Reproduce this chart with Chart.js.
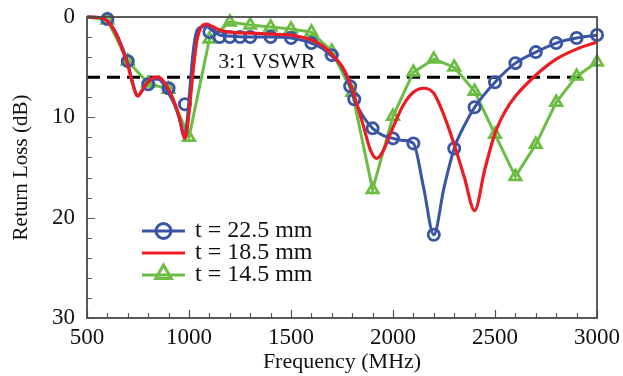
<!DOCTYPE html>
<html>
<head>
<meta charset="utf-8">
<title>Return Loss</title>
<script src="https://cdn.jsdelivr.net/npm/chart.js@4.4.1/dist/chart.umd.min.js"></script>
<style>
html,body{margin:0;padding:0;background:#fff;}
</style>
</head>
<body>
<canvas id="mycanvas" width="623" height="376"></canvas>
<script>
// axis ticks
var xTicks = [500, 1000, 1500, 2000, 2500, 3000];
var yTicks = [0, 10, 20, 30];
var xMinorStep = 100;
var yMinorStep = 2;

var seriesNames = ["t = 22.5 mm", "t = 18.5 mm", "t = 14.5 mm"];

// t = 22.5 mm : curve
var blueFreq = [500, 560, 600, 640, 680, 700, 720, 740, 750, 765, 790, 820, 850, 875, 900, 930, 955, 976, 990, 1005, 1020, 1035, 1060, 1085, 1110, 1150, 1200, 1300, 1400, 1500, 1550, 1600, 1650, 1700, 1750, 1790, 1810, 1850, 1900, 1950, 2000, 2050, 2100, 2150, 2200, 2250, 2300, 2350, 2400, 2500, 2600, 2700, 2800, 2900, 3000];
var blueLoss = [0, 0.05, 0.35, 1.5, 3.4, 4.6, 6.2, 7.6, 7.8, 7.5, 6.7, 6.2, 6.2, 6.7, 7.6, 8.8, 10.3, 12.0, 10.5, 7.0, 3.5, 1.6, 1.0, 0.9, 1.3, 1.8, 1.9, 2.0, 2.0, 2.1, 2.3, 2.6, 3.1, 3.9, 5.0, 6.9, 8.2, 9.8, 11.1, 11.8, 12.1, 12.3, 12.6, 17.0, 21.7, 17.0, 13.1, 10.8, 9.0, 6.5, 4.6, 3.5, 2.6, 2.1, 1.8];
// t = 22.5 mm : circle markers
var blueMarkFreq = [600, 700, 800, 900, 980, 1100, 1150, 1200, 1250, 1300, 1400, 1500, 1600, 1700, 1790, 1810, 1900, 2000, 2100, 2200, 2300, 2400, 2500, 2600, 2700, 2800, 2900, 3000];
var blueMarkLoss = [0.2, 4.4, 6.7, 7.1, 8.7, 1.5, 2.0, 2.0, 2.0, 2.0, 2.0, 2.1, 2.6, 3.8, 6.9, 8.2, 11.1, 12.1, 12.6, 21.7, 13.1, 9.0, 6.5, 4.6, 3.5, 2.6, 2.1, 1.8];

// t = 18.5 mm : curve only
var redFreq = [500, 560, 600, 640, 680, 700, 720, 740, 750, 765, 790, 820, 850, 875, 900, 930, 955, 981, 995, 1010, 1025, 1040, 1060, 1085, 1110, 1150, 1200, 1300, 1400, 1500, 1550, 1600, 1650, 1700, 1750, 1780, 1800, 1850, 1890, 1920, 1950, 2000, 2050, 2100, 2150, 2200, 2250, 2300, 2350, 2400, 2450, 2500, 2550, 2600, 2700, 2800, 2900, 3000];
var redLoss = [0, 0.05, 0.4, 1.6, 3.6, 4.8, 6.4, 7.7, 7.9, 7.5, 6.7, 6.1, 6.0, 6.4, 7.2, 8.6, 10.2, 12.1, 10.5, 7.5, 4.5, 2.2, 1.0, 0.7, 0.9, 1.3, 1.5, 1.6, 1.7, 1.8, 2.0, 2.3, 2.8, 3.7, 4.9, 6.1, 7.2, 10.5, 13.3, 14.1, 13.4, 11.0, 8.8, 7.5, 7.1, 7.6, 9.8, 12.7, 16.0, 19.3, 15.2, 11.6, 9.4, 7.9, 5.8, 4.2, 3.2, 2.5];

// t = 14.5 mm : curve, triangles from 600 MHz on
var greenFreq = [500, 600, 700, 800, 900, 1000, 1100, 1200, 1300, 1400, 1500, 1600, 1700, 1800, 1900, 2000, 2100, 2200, 2300, 2400, 2500, 2600, 2700, 2800, 2900, 3000];
var greenLoss = [0, 0.3, 4.4, 6.6, 7.2, 12.0, 2.2, 0.5, 0.8, 1.0, 1.2, 1.5, 3.4, 7.5, 17.2, 9.9, 5.5, 4.2, 5.0, 7.4, 11.7, 15.9, 12.7, 8.5, 5.9, 4.5];

// 3:1 VSWR reference
var vswrFreq = [500, 2930];
var vswrLoss = [6, 6];
var vswrText = "3:1 VSWR";
var vswrTextAt = [1143, 4.5];

var blue = "#3a55a5", red = "#ec1c24", green = "#6cbd45";
var serif = "'Liberation Serif', 'Times New Roman', serif";

// wanted plot box
var box = {left: 87, top: 17, right: 597, bottom: 318};
var yAxisWidth = 87, xAxisHeight = 376 - 318;

function pts(xs, ys) {
  var out = [];
  for (var i = 0; i < xs.length; i++) out.push({x: xs[i], y: ys[i]});
  return out;
}

var axisDecor = {
  id: 'axisDecor',
  beforeDatasetsDraw: function(chart) {
    var c = chart.ctx, a = chart.chartArea, sx = chart.scales.x, sy = chart.scales.y;
    c.save();
    c.strokeStyle = '#555';
    c.lineWidth = 1.2;
    c.beginPath();
    for (var f = sx.min; f <= sx.max; f += xMinorStep) {
      var px = Math.round(sx.getPixelForValue(f)) + 0.5;
      var l = (f % 500 === 0) ? 8 : 5;
      c.moveTo(px, a.bottom); c.lineTo(px, a.bottom - l);
    }
    for (var d = sy.min; d <= sy.max; d += yMinorStep) {
      var py = Math.round(sy.getPixelForValue(d)) + 0.5;
      var l2 = (d % 10 === 0) ? 8 : 5;
      c.moveTo(a.left, py); c.lineTo(a.left + l2, py);
    }
    c.stroke();
    c.font = '22px ' + serif;
    c.fillStyle = '#111';
    c.textBaseline = 'middle';
    c.textAlign = 'left';
    c.fillText(vswrText, sx.getPixelForValue(vswrTextAt[0]), sy.getPixelForValue(vswrTextAt[1]));
    c.restore();
  },
  afterDraw: function(chart) {
    var c = chart.ctx, a = chart.chartArea;
    c.save();
    c.strokeStyle = '#4a4a4a';
    c.lineWidth = 1.8;
    c.strokeRect(a.left, a.top, a.right - a.left, a.bottom - a.top);

    // legend
    var rows = [
      {color: blue, style: 'circle', r: 7.5},
      {color: red, style: false, r: 0},
      {color: green, style: 'triangle', r: 9}
    ];
    var x0 = 142, x1 = 185, tx = 195, y0 = 231, dy = 22;
    for (var i = 0; i < rows.length; i++) {
      var y = y0 + i * dy;
      c.strokeStyle = rows[i].color;
      c.lineWidth = 3.2;
      c.beginPath(); c.moveTo(x0, y); c.lineTo(x1, y); c.stroke();
      if (rows[i].style) {
        c.fillStyle = 'rgba(0,0,0,0)';
        c.lineWidth = 3;
        Chart.helpers.drawPoint(c, {pointStyle: rows[i].style, radius: rows[i].r, rotation: 0, borderWidth: 3}, (x0 + x1) / 2, rows[i].style === 'triangle' ? y - 1 : y);
      }
      c.fillStyle = '#111';
      c.font = '24px ' + serif;
      c.textBaseline = 'middle';
      c.textAlign = 'left';
      c.fillText(seriesNames[i], tx, y);
    }
    c.restore();
  }
};

var ctx = document.getElementById('mycanvas');
var chart = new Chart(ctx, {
  type: 'scatter',
  data: {
    datasets: [
      {label: seriesNames[1], data: pts(redFreq, redLoss), showLine: true, borderColor: red, borderWidth: 3.2,
       pointRadius: 0, cubicInterpolationMode: 'monotone', order: 1, clip: false},
      {label: seriesNames[0] + ' markers', data: pts(blueMarkFreq, blueMarkLoss), showLine: false, borderColor: blue,
       backgroundColor: 'rgba(0,0,0,0)', pointRadius: 5.6, pointBorderWidth: 2.8, pointStyle: 'circle', order: 2, clip: false},
      {label: seriesNames[0], data: pts(blueFreq, blueLoss), showLine: true, borderColor: blue, borderWidth: 3,
       pointRadius: 0, cubicInterpolationMode: 'monotone', order: 3, clip: false},
      {label: seriesNames[2] + ' markers', data: pts(greenFreq.slice(1), greenLoss.slice(1)), showLine: false, borderColor: green,
       backgroundColor: 'rgba(0,0,0,0)', pointRadius: 6.5, pointBorderWidth: 2.8, pointStyle: 'triangle', order: 4, clip: false},
      {label: seriesNames[2], data: pts(greenFreq, greenLoss), showLine: true, borderColor: green, borderWidth: 3,
       pointRadius: 0, tension: 0, order: 5, clip: false},
      {label: vswrText, data: pts(vswrFreq, vswrLoss), showLine: true, borderColor: '#000', borderWidth: 3,
       borderDash: [13, 7], pointRadius: 0, order: 6}
    ]
  },
  options: {
    responsive: false,
    animation: false,
    layout: {padding: {top: box.top, right: 623 - box.right, left: 0, bottom: 0}},
    plugins: {legend: {display: false}, tooltip: {enabled: false}},
    scales: {
      x: {
        type: 'linear', min: 500, max: 3000,
        afterBuildTicks: function(s) { s.ticks = xTicks.map(function(v) { return {value: v}; }); },
        afterFit: function(s) { s.height = xAxisHeight; s.paddingLeft = 0; s.paddingRight = 0; },
        grid: {display: false, drawTicks: false},
        border: {display: false},
        ticks: {font: {family: serif, size: 23}, color: '#111', padding: 6, maxRotation: 0, autoSkip: false,
                callback: function(v) { return String(v); }},
        title: {display: true, text: 'Frequency (MHz)', font: {family: serif, size: 22}, color: '#111', padding: {top: 0, bottom: 1}}
      },
      y: {
        type: 'linear', min: 0, max: 30, reverse: true,
        afterBuildTicks: function(s) { s.ticks = yTicks.map(function(v) { return {value: v}; }); },
        afterFit: function(s) { s.width = yAxisWidth; s.paddingTop = 0; s.paddingBottom = 0; },
        grid: {display: false, drawTicks: false},
        border: {display: false},
        ticks: {font: {family: serif, size: 23}, color: '#111', padding: 12, autoSkip: false,
                callback: function(v) { return String(v); }},
        title: {display: true, text: 'Return Loss (dB)', font: {family: serif, size: 21}, color: '#111', padding: {top: 9, bottom: 0}}
      }
    }
  },
  plugins: [axisDecor]
});

// nudge the layout so the plot box lands where the figure has it
var a = chart.chartArea;
var pad = chart.options.layout.padding;
pad.top = Math.max(0, pad.top - (a.top - box.top));
pad.right = Math.max(0, pad.right + (a.right - box.right));
xAxisHeight = xAxisHeight + (a.bottom - box.bottom);
yAxisWidth = yAxisWidth - (a.left - box.left);
chart.update();
</script>
</body>
</html>
